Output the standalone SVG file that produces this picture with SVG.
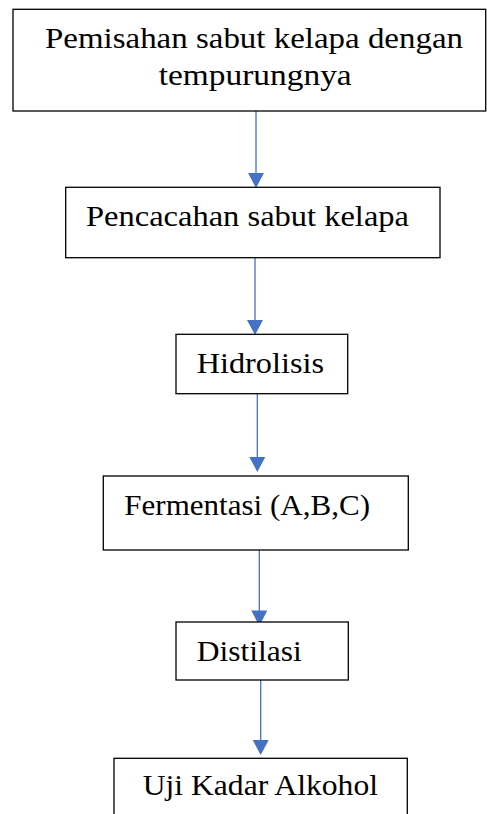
<svg xmlns="http://www.w3.org/2000/svg" width="487" height="814" viewBox="0 0 487 814">
<defs>
<style>
.box{fill:#fff;stroke:#000;stroke-width:1.3}
.t{font-family:"Liberation Serif","Times New Roman",serif;font-size:30px;fill:#000}
.c{stroke:#4472C4;stroke-width:1.3;fill:none}
.h{fill:#4472C4}
</style>
</defs>
<rect width="487" height="814" fill="#fff"/>
<g id="connectors">
<line class="c" x1="256" y1="111" x2="256" y2="175"/>
<polygon class="h" points="248,173 264,173 256,188"/>
<line class="c" x1="255" y1="258" x2="255" y2="322"/>
<polygon class="h" points="247,320 263,320 255,335"/>
<line class="c" x1="257.3" y1="394" x2="257.3" y2="459"/>
<polygon class="h" points="249.3,457 265.3,457 257.3,472"/>
<line class="c" x1="259.3" y1="550" x2="259.3" y2="612"/>
<polygon class="h" points="251.3,610.5 267.3,610.5 259.3,626"/>
<line class="c" x1="260.7" y1="680" x2="260.7" y2="742"/>
<polygon class="h" points="252.7,740 268.7,740 260.7,755"/>
</g>
<g id="n1">
<rect class="box" x="13" y="9.3" width="472.7" height="101.7"/>
<text class="t" x="45" y="48.3" textLength="418" lengthAdjust="spacingAndGlyphs">Pemisahan sabut kelapa dengan</text>
<text class="t" x="158.7" y="85" textLength="193" lengthAdjust="spacingAndGlyphs">tempurungnya</text>
</g>
<g id="n2">
<rect class="box" x="65.7" y="187.3" width="374.3" height="70.4"/>
<text class="t" x="86" y="225.7" textLength="323" lengthAdjust="spacingAndGlyphs">Pencacahan sabut kelapa</text>
</g>
<g id="n3">
<rect class="box" x="176" y="334.3" width="171.7" height="59.4"/>
<text class="t" x="196.7" y="372.7" textLength="127.3" lengthAdjust="spacingAndGlyphs">Hidrolisis</text>
</g>
<g id="n4">
<rect class="box" x="103.3" y="476" width="305" height="74"/>
<text class="t" x="124.3" y="515" textLength="245.7" lengthAdjust="spacingAndGlyphs">Fermentasi (A,B,C)</text>
</g>
<g id="n5">
<rect class="box" x="176" y="622" width="172.3" height="58"/>
<text class="t" x="196.7" y="661" textLength="105" lengthAdjust="spacingAndGlyphs">Distilasi</text>
</g>
<g id="n6">
<rect class="box" x="114" y="758.3" width="293.3" height="70"/>
<text class="t" x="142.7" y="795" textLength="235.3" lengthAdjust="spacingAndGlyphs">Uji Kadar Alkohol</text>
</g>
</svg>
